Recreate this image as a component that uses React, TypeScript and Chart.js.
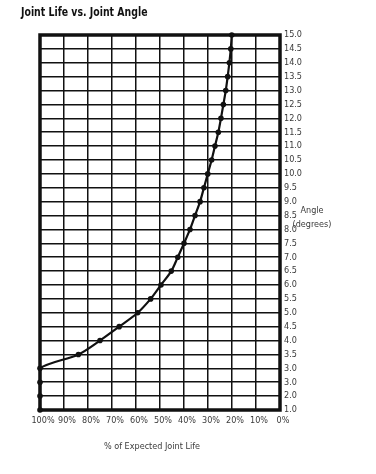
import React, { useEffect, useRef } from "react";
import { Chart, registerables } from "chart.js";

Chart.register(...registerables);

// Angle (degrees) rows, bottom to top, as printed on the right axis
const angleLabels = [
  "1.0", "2.0", "3.0", "3.0", "3.5", "4.0", "4.5", "5.0", "5.5", "6.0",
  "6.5", "7.0", "7.5", "8.0", "8.5", "9.0", "9.5", "10.0", "10.5", "11.0",
  "11.5", "12.0", "12.5", "13.0", "13.5", "14.0", "14.5", "15.0",
];

// % of expected joint life at each angle row
const lifePct = [
  100, 100, 100, 100, 84, 75, 67, 59.3, 53.9, 49.6,
  45.3, 42.6, 40, 37.5, 35.4, 33.3, 31.7, 30.1, 28.5, 27.1,
  25.7, 24.6, 23.6, 22.6, 21.8, 21.1, 20.5, 20.1,
];

const chartTitle = "Joint Life vs. Joint Angle";
const xTitle = "% of Expected Joint Life";
const yTitleLines = ["Angle", "(degrees)"];

const narrow = '"Liberation Sans Narrow", "DejaVu Sans Condensed", "Arial Narrow", sans-serif';

const frame = {
  id: "frame",
  beforeDatasetsDraw(chart: any) {
    const { ctx, chartArea: a } = chart;
    ctx.save();
    ctx.strokeStyle = "#111";
    ctx.lineWidth = 3.5;
    ctx.strokeRect(a.left, a.top, a.right - a.left, a.bottom - a.top);
    ctx.restore();
  },
};

export default function App() {
  const ref = useRef<HTMLCanvasElement | null>(null);
  useEffect(() => {
    if (!ref.current) return;
    const chart = new Chart(ref.current, {
      type: "line",
      data: {
        labels: angleLabels,
        datasets: [
          {
            data: lifePct,
            borderColor: "#111",
            borderWidth: 2.2,
            pointRadius: 2.8,
            pointBackgroundColor: "#111",
            pointBorderWidth: 0,
            tension: 0.3,
            clip: false as any,
          },
        ],
      },
      options: {
        indexAxis: "y",
        animation: false,
        responsive: false,
        devicePixelRatio: 1,
        layout: { padding: { left: 40, top: 35, right: 0, bottom: 0 } },
        plugins: { legend: { display: false }, tooltip: { enabled: false } },
        scales: {
          x: {
            type: "linear",
            min: 0,
            max: 100,
            reverse: true,
            grid: { color: "#111", lineWidth: 1.5, drawTicks: false },
            border: { display: false },
            ticks: {
              stepSize: 10,
              autoSkip: false,
              padding: 5,
              labelOffset: 3,
              color: "#3a3a3a",
              font: { family: narrow, size: 9 },
              maxRotation: 0,
              callback: (v: any) => v + "%",
            },
            afterFit: (s: any) => {
              s.height = 64;
            },
          },
          y: {
            type: "category",
            position: "right",
            reverse: true,
            offset: false,
            grid: { color: "#111", lineWidth: 1.5, drawTicks: false },
            border: { display: false },
            ticks: {
              autoSkip: false,
              padding: 4,
              color: "#3a3a3a",
              font: { family: narrow, size: 9 },
            },
            afterFit: (s: any) => {
              s.width = 96;
            },
          },
        },
      },
      plugins: [frame],
    } as any);
    return () => chart.destroy();
  }, []);

  return (
    <div style={{ position: "absolute", left: 0, top: 0, width: 376, height: 474, background: "#fff" }}>
      <canvas ref={ref} width={376} height={474} style={{ width: 376, height: 474, display: "block" }} />
      <div
        style={{
          position: "absolute",
          left: 21,
          top: 4,
          fontFamily: narrow,
          fontWeight: 700,
          fontSize: 13,
          color: "#111",
          whiteSpace: "nowrap",
          lineHeight: "16px",
          transform: "scaleX(0.8)",
          transformOrigin: "0 0",
        }}
      >
        {chartTitle}
      </div>
      <div
        style={{
          position: "absolute",
          left: 289,
          top: 203,
          width: 46,
          textAlign: "center",
          fontFamily: narrow,
          fontSize: 9,
          color: "#3a3a3a",
          lineHeight: "14px",
        }}
      >
        {yTitleLines.map((t) => (
          <div key={t}>{t}</div>
        ))}
      </div>
      <div
        style={{
          position: "absolute",
          left: 100,
          top: 440,
          width: 104,
          textAlign: "center",
          fontFamily: narrow,
          fontSize: 9,
          color: "#3a3a3a",
          lineHeight: "12px",
          whiteSpace: "nowrap",
        }}
      >
        {xTitle}
      </div>
    </div>
  );
}
